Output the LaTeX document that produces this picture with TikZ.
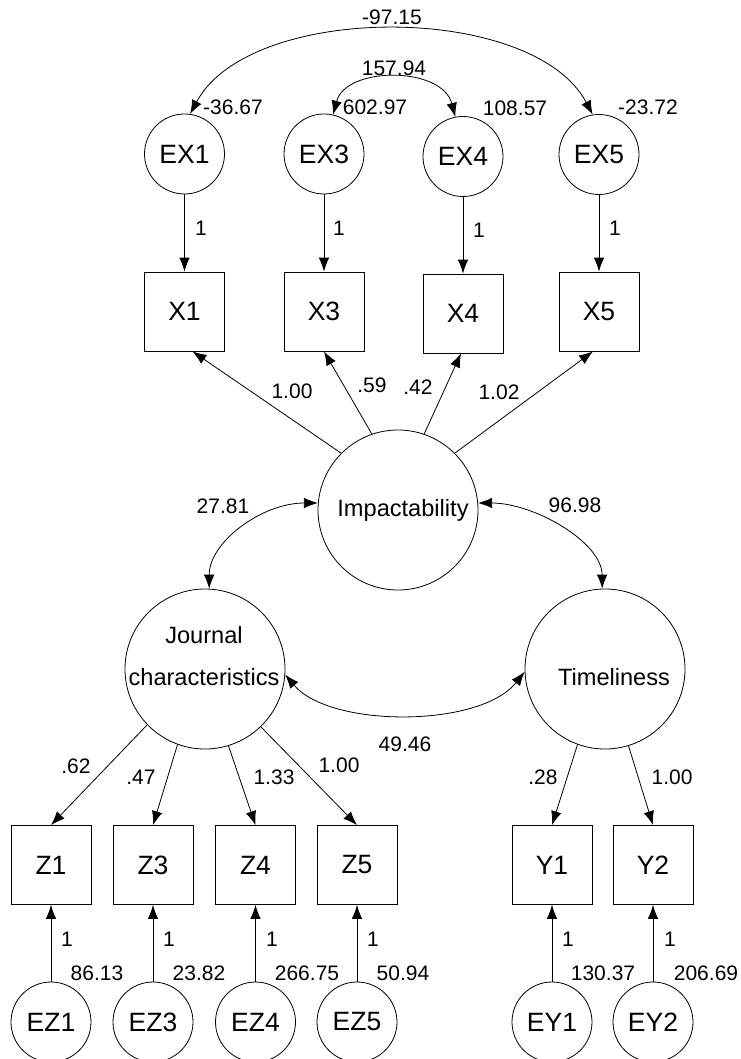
\documentclass[tikz,border=0pt]{standalone}
\usepackage{fontspec}
\setmainfont{Liberation Sans}
\usetikzlibrary{positioning,arrows.meta}
\tikzset{
  errvar/.style={circle,draw,line width=0.8pt,minimum size=80pt,inner sep=0pt,font=\fontsize{26.5}{30}\selectfont},
  latent/.style={circle,draw,line width=0.8pt,minimum size=160pt,inner sep=0pt},
  latname/.style={inner sep=0pt,align=center,font=\fontsize{23.6}{42}\selectfont},
  observed/.style={rectangle,draw,line width=0.8pt,minimum width=80pt,minimum height=79pt,inner sep=0pt,font=\fontsize{26.5}{30}\selectfont},
  num/.style={inner sep=0pt,font=\fontsize{21}{24}\selectfont},
  load/.style={-{Latex[length=14pt,width=10.5pt]},line width=0.8pt},
  covar/.style={{Latex[length=14pt,width=10.5pt]}-{Latex[length=14pt,width=10.5pt]},line width=0.8pt}
}
\begin{document}
\begin{tikzpicture}[x=1pt,y=-1pt]
   \useasboundingbox (0,0) rectangle (740,1059);
   % errors of the X indicators
   \node[errvar] (EX1) at (184.5,154) {EX1};
   \node[errvar] (EX3) at (324,154) {EX3};
   \node[errvar] (EX4) at (463,156.5) {EX4};
   \node[errvar] (EX5) at (599,154.5) {EX5};
   \node[observed] (X1) at (184.5,311.5) {X1};
   \node[observed] (X3) at (324,311.5) {X3};
   \node[observed] (X4) at (463,313.5) {X4};
   \node[observed] (X5) at (599,311.5) {X5};
   % latent factors
   \node[latent, label={[latname,xshift=5pt]center:Impactability}] (IMP) at (398,510) {};
   \node[latent, label={[latname,xshift=-1pt,yshift=13pt]center:Journal\\characteristics}] (JC) at (205,669) {};
   \node[latent, label={[latname,xshift=9pt,yshift=-8pt]center:Timeliness}] (TL) at (605,669) {};
   % Z and Y indicators with their errors
   \node[observed] (Z1) at (51,865) {Z1};
   \node[observed] (Z3) at (153,865) {Z3};
   \node[observed] (Z4) at (255.5,865) {Z4};
   \node[observed] (Z5) at (357,865) {Z5};
   \node[observed] (Y1) at (552,865) {Y1};
   \node[observed] (Y2) at (653,865) {Y2};
   \node[errvar] (EZ1) at (51,1022) {EZ1};
   \node[errvar] (EZ3) at (153,1022) {EZ3};
   \node[errvar] (EZ4) at (255.5,1022) {EZ4};
   \node[errvar] (EZ5) at (357,1022) {EZ5};
   \node[errvar] (EY1) at (552,1022) {EY1};
   \node[errvar] (EY2) at (653,1022) {EY2};

   \draw[load] (EX1) -- (X1);
   \draw[load] (EX3) -- (X3);
   \draw[load] (EX4) -- (X4);
   \draw[load] (EX5) -- (X5);
   \draw[load] (IMP.135) -- ([xshift=8pt]X1.south);
   \draw[load] (IMP.109) -- (X3.south);
   \draw[load] (IMP.71) -- ([xshift=-2pt]X4.south);
   \draw[load] (IMP.45) -- ([xshift=-6pt]X5.south);
   \draw[load] (JC.224) -- (Z1.north);
   \draw[load] (JC.250) -- (Z3.north);
   \draw[load] (JC.287) -- (Z4.north);
   \draw[load] (JC.314) -- (Z5.north);
   \draw[load] (TL.250) -- (Y1.north);
   \draw[load] (TL.287) -- (Y2.north);
   \draw[load] (EZ1) -- (Z1);
   \draw[load] (EZ3) -- (Z3);
   \draw[load] (EZ4) -- (Z4);
   \draw[load] (EZ5) -- (Z5);
   \draw[load] (EY1) -- (Y1);
   \draw[load] (EY2) -- (Y2);
   % covariances
   \draw[covar] (EX1.82) .. controls (250,2) and (533,2) .. (EX5.99);
   \draw[covar] (EX3.77) .. controls (346,66) and (442,66) .. (EX4.101);
   \draw[covar] (IMP.175) .. controls (262,503) and (209,542) .. (JC.87);
   \draw[covar] (IMP.5) .. controls (534,503) and (602,542) .. (TL.92);
   \draw[covar] (JC.-4) .. controls (330,728) and (480,728) .. (TL.182);

   % estimates
   \node[num] (cEX15) at (392,17) {-97.15};
   \node[num] (cEX34) at (394,68) {157.94};
   \node[num] (vEX1) at (233,107) {-36.67};
   \node[num] (vEX3) at (375,107) {602.97};
   \node[num] (vEX4) at (515,108) {108.57};
   \node[num] (vEX5) at (648,107) {-23.72};
   \node[num] (fEX1) at (201,228) {1};
   \node[num] (fEX3) at (339,228) {1};
   \node[num] (fEX4) at (479,230) {1};
   \node[num] (fEX5) at (615,228) {1};
   \node[num] (lX1) at (292,391) {1.00};
   \node[num] (lX3) at (372,385) {.59};
   \node[num] (lX4) at (418,387) {.42};
   \node[num] (lX5) at (499,392) {1.02};
   \node[num] (cIJ) at (223,506) {27.81};
   \node[num] (cIT) at (575,505) {96.98};
   \node[num] (cJT) at (405,744) {49.46};
   \node[num] (lZ1) at (76,766) {.62};
   \node[num] (lZ3) at (141,777) {.47};
   \node[num] (lZ4) at (274,777) {1.33};
   \node[num] (lZ5) at (339,765) {1.00};
   \node[num] (lY1) at (543,777) {.28};
   \node[num] (lY2) at (672,777) {1.00};
   \node[num] (fEZ1) at (67,939) {1};
   \node[num] (fEZ3) at (169,939) {1};
   \node[num] (fEZ4) at (272,939) {1};
   \node[num] (fEZ5) at (373,939) {1};
   \node[num] (fEY1) at (568,939) {1};
   \node[num] (fEY2) at (670,939) {1};
   \node[num] (vEZ1) at (97,973) {86.13};
   \node[num] (vEZ3) at (199,973) {23.82};
   \node[num] (vEZ4) at (307,973) {266.75};
   \node[num] (vEZ5) at (403,973) {50.94};
   \node[num] (vEY1) at (603,973) {130.37};
   \node[num] (vEY2) at (706,973) {206.69};
\end{tikzpicture}
\end{document}
